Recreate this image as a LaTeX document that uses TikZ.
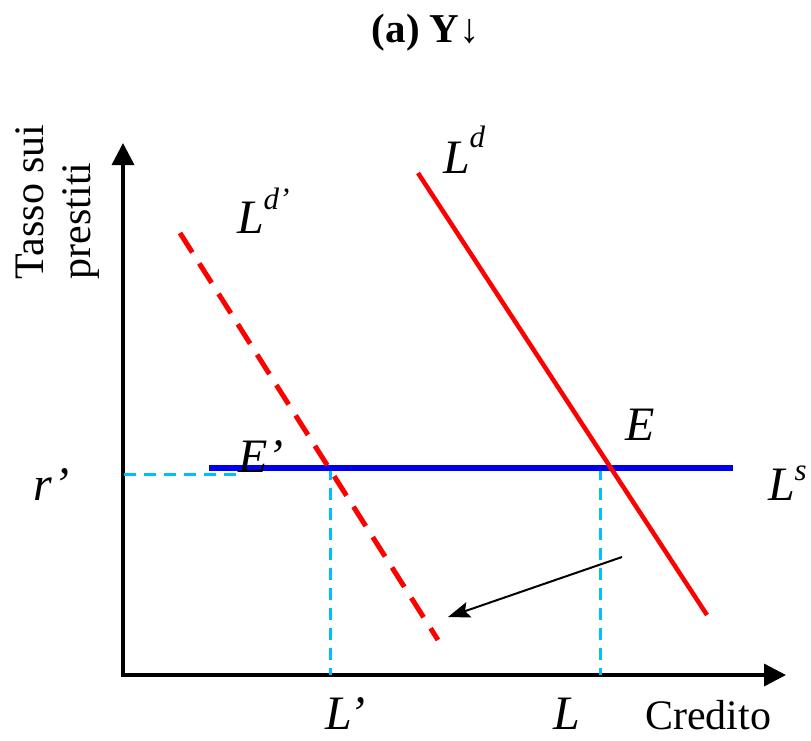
\documentclass[tikz,border=0pt]{standalone}
\usepackage{fontspec}
\setmainfont{Liberation Serif}
\usetikzlibrary{arrows.meta}
\definecolor{dred}{RGB}{255,0,0}
\definecolor{sblue}{RGB}{0,0,240}
\definecolor{lcyan}{RGB}{0,190,255}
\newcommand\sups[2][24pt]{\raisebox{#1}{\fontsize{31}{31}\selectfont #2}}
\begin{document}
\begin{tikzpicture}[x=1pt,y=-1pt,
  lbl/.style={inner sep=0pt,outer sep=0pt,anchor=base west,font=\fontsize{48}{50}\selectfont\itshape},
  txt/.style={inner sep=0pt,outer sep=0pt,anchor=base west,font=\fontsize{42}{48}\selectfont},
  axis/.style={line width=3.5pt,-{Triangle[length=22pt,width=22pt]}},
  demand/.style={dred,line width=4.5pt},
  supply/.style={sblue,line width=6pt},
  guide/.style={lcyan,line width=3pt,dash pattern=on 12pt off 8pt},
  shiftarrow/.style={black,line width=2pt,-{Stealth[length=22pt,width=16pt,inset=4pt]}}]
\useasboundingbox (0,0) rectangle (811,740);
% title
\node[inner sep=0pt,anchor=base,font=\fontsize{41}{48}\selectfont\bfseries] (title) at (426,42) {(a) Y↓};
% axes
\coordinate (O) at (123,675);
\coordinate (ytip) at (123,143);
\coordinate (xtip) at (786,675);
\draw[axis] (O) -- (ytip);
\draw[axis] ([xshift=-1.75pt]O) -- (xtip);
% curve end points
\coordinate (Ld1) at (418,173);
\coordinate (Ld2) at (707,615);
\coordinate (Ldp1) at (180,233);
\coordinate (Ldp2) at (438,640);
\coordinate (Ls1) at (209,468);
\coordinate (Ls2) at (733,468);
\coordinate (Ept) at (610,468);
\coordinate (Epp) at (330,468);
\coordinate (r0) at (124,474);
\coordinate (r1) at (243,474);
% guide lines
\draw[guide] (r0) -- (r1);
\draw[guide] (Epp) -- (Epp |- O);
\draw[guide] ([xshift=-10pt]Ept) -- ([xshift=-10pt]Ept |- O);
% supply and demand
\draw[supply] (Ls1) -- (Ls2);
\draw[demand] (Ld1) -- (Ld2);
\draw[demand,line width=5pt,dash pattern=on 23pt off 13pt] (Ldp1) -- (Ldp2);
% shift arrow
\coordinate (sA) at (622,557);
\coordinate (sB) at (448,617);
\draw[shiftarrow] (sA) -- (sB);
% labels
\node[lbl] (Ld) at (443,173) {L\sups[26pt]{d}};
\node[lbl] (Ldp) at (237,233) {L\sups{d’}};
\node[lbl] (E) at (625,440) {E};
\node[lbl] (Ep) at (238,472) {E’};
\node[lbl] (rp) at (33,500) {r’};
\node[lbl] (Ls) at (768,500) {L\sups[20pt]{s}};
\node[lbl] (Lp) at (325,729) {L’};
\node[lbl] (L) at (553,729) {L};
\node[txt] (credito) at (645,729) {Credito};
\node[txt,rotate=90] (tasso) at (43,279) {Tasso sui};
\node[txt,rotate=90] (prestiti) at (90,279) {prestiti};
\end{tikzpicture}
\end{document}
